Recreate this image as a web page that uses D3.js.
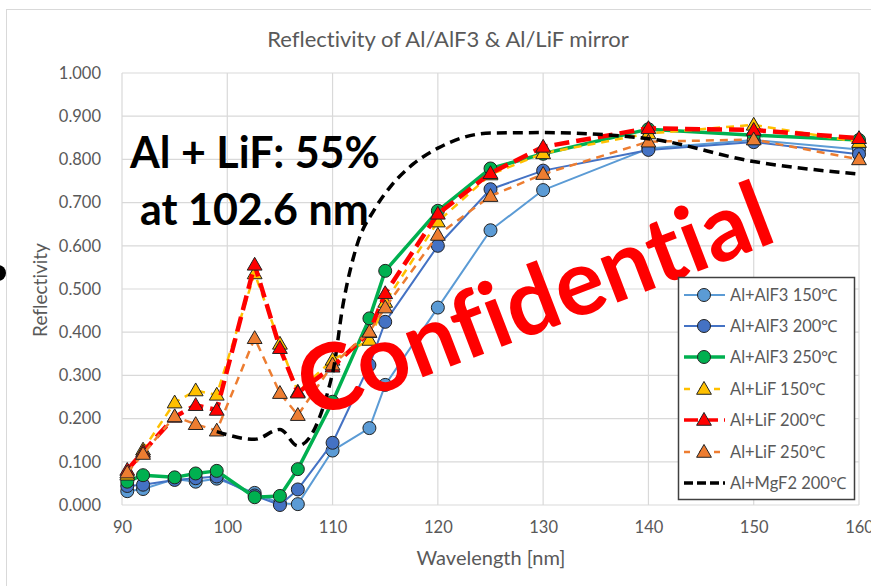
<!DOCTYPE html>
<html><head><meta charset="utf-8">
<script src="https://cdn.jsdelivr.net/npm/d3@7"></script>
<style>body{margin:0;background:#fff;overflow:hidden}svg{display:block}text{font-variant-ligatures:none;font-feature-settings:"liga" 0}</style>
</head><body><svg id="c" width="871" height="586"></svg>
<script>
const title = "Reflectivity of Al/AlF3 & Al/LiF mirror";
const xTicks = [90, 100, 110, 120, 130, 140, 150, 160];
const yTicks = [0, 0.1, 0.2, 0.3, 0.4, 0.5, 0.6, 0.7, 0.8, 0.9, 1.0];
const wavelengths = [90.5, 92, 95, 97, 99, 102.6, 105, 106.7, 110, 113.5, 115, 120, 125, 130, 140, 150, 160];
const alf3_150 = [0.032, 0.037, 0.060, 0.054, 0.061, 0.028, 0.004, 0.002, 0.126, 0.178, 0.278, 0.457, 0.636, 0.729, 0.825, 0.845, 0.823];
const alf3_200 = [0.044, 0.047, 0.058, 0.062, 0.066, 0.022, 0.000, 0.036, 0.144, 0.324, 0.424, 0.600, 0.731, 0.774, 0.822, 0.840, 0.812];
const alf3_250 = [0.054, 0.069, 0.064, 0.073, 0.079, 0.018, 0.021, 0.083, 0.239, 0.432, 0.542, 0.681, 0.779, 0.813, 0.870, 0.856, 0.845];
const lif_150 = [0.070, 0.128, 0.237, 0.265, 0.255, 0.536, 0.373, 0.262, 0.336, 0.382, 0.470, 0.656, 0.765, 0.814, 0.860, 0.880, 0.840];
const lif_200 = [0.081, 0.123, 0.204, 0.231, 0.220, 0.556, 0.363, 0.260, 0.320, 0.400, 0.490, 0.674, 0.768, 0.829, 0.872, 0.868, 0.849];
const lif_250 = [0.075, 0.118, 0.205, 0.187, 0.172, 0.386, 0.259, 0.208, 0.325, 0.401, 0.457, 0.625, 0.715, 0.766, 0.841, 0.846, 0.800];
const mgf2_wl = [99, 102.6, 105, 106.7, 110, 111, 112.3, 114, 115.5, 117.7, 120, 125, 130, 140, 150, 160];
const mgf2_200 = [0.170, 0.152, 0.175, 0.137, 0.305, 0.465, 0.600, 0.685, 0.737, 0.790, 0.826, 0.861, 0.862, 0.848, 0.795, 0.766];
const seriesNames = ["Al+AlF3 150℃", "Al+AlF3 200℃", "Al+AlF3 250℃", "Al+LiF 150℃", "Al+LiF 200℃", "Al+LiF 250℃", "Al+MgF2 200℃"];
const annotation = ["Al + LiF: 55%", "at 102.6 nm"];
const watermark = "Confidential";

const styles = [
  {color:"#5B9BD5", w:2, dash:null, marker:"circle", curve:d3.curveLinear},
  {color:"#4472C4", w:2, dash:null, marker:"circle", curve:d3.curveLinear},
  {color:"#00B050", w:3.5, dash:null, marker:"circle", curve:d3.curveLinear},
  {color:"#FFC000", w:2.5, dash:"8,6", marker:"triangle", curve:d3.curveLinear},
  {color:"#FF0000", w:4.5, dash:"15,7", marker:"triangle", curve:d3.curveLinear},
  {color:"#ED7D31", w:2.5, dash:"8,6", marker:"triangle", curve:d3.curveLinear},
  {color:"#000000", w:3.5, dash:"10,6", marker:null, curve:d3.curveMonotoneX}
];
const seriesData = [
  [wavelengths, alf3_150], [wavelengths, alf3_200], [wavelengths, alf3_250],
  [wavelengths, lif_150], [wavelengths, lif_200], [wavelengths, lif_250],
  [mgf2_wl, mgf2_200]
].map(([xs, ys]) => xs.map((x, i) => ({x, y: ys[i]})));

const svg = d3.select("#c");
const x = d3.scaleLinear().domain([90, 160]).range([122, 859]);
const y = d3.scaleLinear().domain([0, 1]).range([505, 73]);
const font = "Lato, 'Open Sans', sans-serif";
const grey = "#595959";

// outer chart border and stray dot
svg.append("rect").attr("x", 6.5).attr("y", 9.5).attr("width", 900).attr("height", 600)
  .attr("fill", "#fff").attr("stroke", "#D9D9D9");
svg.append("circle").attr("cx", -2).attr("cy", 273).attr("r", 8).attr("fill", "#000");

// title
svg.append("text").attr("x", 448).attr("y", 47).attr("text-anchor", "middle")
  .attr("font-family", font).attr("font-size", 22).attr("fill", grey).text(title);

// grid
const g = svg.append("g");
g.selectAll(".hg").data(yTicks).join("line")
  .attr("x1", x(90)).attr("x2", x(160)).attr("y1", d => y(d)).attr("y2", d => y(d))
  .attr("stroke", "#D9D9D9").attr("stroke-width", 1.2);
g.selectAll(".vg").data(xTicks).join("line")
  .attr("x1", d => x(d)).attr("x2", d => x(d)).attr("y1", y(0)).attr("y2", y(1))
  .attr("stroke", "#D9D9D9").attr("stroke-width", 1.2);

// axes (labels only)
const yAxis = d3.axisLeft(y).tickValues(yTicks).tickFormat(d3.format(".3f")).tickSize(0).tickPadding(0);
const ya = svg.append("g").attr("transform", "translate(101,0)").call(yAxis);
const xAxis = d3.axisBottom(x).tickValues(xTicks).tickFormat(d3.format("d")).tickSize(0).tickPadding(0);
const xa = svg.append("g").attr("transform", "translate(0,521)").call(xAxis);
[ya, xa].forEach(a => {
  a.select(".domain").remove();
  a.selectAll("text").attr("font-family", font).attr("font-size", 16.5).attr("fill", grey);
});
xa.selectAll("text").attr("dy", "0.71em");

// axis titles
svg.append("text").attr("transform", "translate(47,290) rotate(-90)").attr("text-anchor", "middle")
  .attr("font-family", font).attr("font-size", 19).attr("fill", grey).text("Reflectivity");
svg.append("text").attr("x", 491).attr("y", 565).attr("text-anchor", "middle")
  .attr("font-family", font).attr("font-size", 20).attr("fill", grey).text("Wavelength [nm]");

// series
const tri = d3.symbol().type(d3.symbolTriangle).size(95);
function drawMarker(sel, st) {
  if (st.marker === "circle") {
    sel.append("circle").attr("r", 6.5).attr("fill", st.color).attr("stroke", "#222").attr("stroke-width", 1);
  } else if (st.marker === "triangle") {
    sel.append("path").attr("d", tri).attr("transform", "translate(0,1)")
      .attr("fill", st.color).attr("stroke", "#222").attr("stroke-width", 1);
  }
}
seriesData.forEach((data, i) => {
  const st = styles[i];
  const line = d3.line().x(d => x(d.x)).y(d => y(d.y)).curve(st.curve);
  const sg = svg.append("g");
  sg.append("path").datum(data).attr("d", line).attr("fill", "none")
    .attr("stroke", st.color).attr("stroke-width", st.w)
    .attr("stroke-dasharray", st.dash).attr("stroke-linejoin", "round");
  if (st.marker) {
    sg.selectAll("g.m").data(data).join("g").attr("class", "m")
      .attr("transform", d => `translate(${x(d.x)},${y(d.y)})`)
      .each(function() { drawMarker(d3.select(this), st); });
  }
});

// annotation
svg.append("text").attr("x", 130).attr("y", 168).attr("font-family", font)
  .attr("font-weight", "bold").attr("font-size", 43).attr("fill", "#000").text(annotation[0]);
svg.append("text").attr("x", 140).attr("y", 225).attr("font-family", font)
  .attr("font-weight", "bold").attr("font-size", 43).attr("fill", "#000").text(annotation[1]);

// watermark
svg.append("text").attr("transform", "translate(534,300) rotate(-21)").attr("text-anchor", "middle")
  .attr("dy", "0.35em").attr("font-family", font)
  .attr("font-weight", "bold").attr("font-size", 92).attr("fill", "#FF0000").text(watermark);

// legend
const lg = svg.append("g");
lg.append("rect").attr("x", 678.5).attr("y", 277.5).attr("width", 176).attr("height", 222)
  .attr("fill", "#fff").attr("stroke", "#404040").attr("stroke-width", 1.5);
const legY = [295, 326, 357, 389, 420, 452, 483];
seriesNames.forEach((name, i) => {
  const st = styles[i];
  const row = lg.append("g").attr("transform", `translate(0,${legY[i]})`);
  row.append("line").attr("x1", 684).attr("x2", 725).attr("y1", 0).attr("y2", 0)
    .attr("stroke", st.color).attr("stroke-width", Math.min(st.w, 3.5))
    .attr("stroke-dasharray", st.dash ? (i === 6 ? "9,4" : (i === 4 ? "14,6" : "6,9")) : null);
  const m = row.append("g").attr("transform", "translate(704,0)");
  drawMarker(m, st);
  row.append("text").attr("x", 730).attr("y", 0).attr("dy", "0.35em")
    .attr("font-family", font).attr("font-size", 16.5).attr("fill", grey).text(name);
});
</script></body></html>
